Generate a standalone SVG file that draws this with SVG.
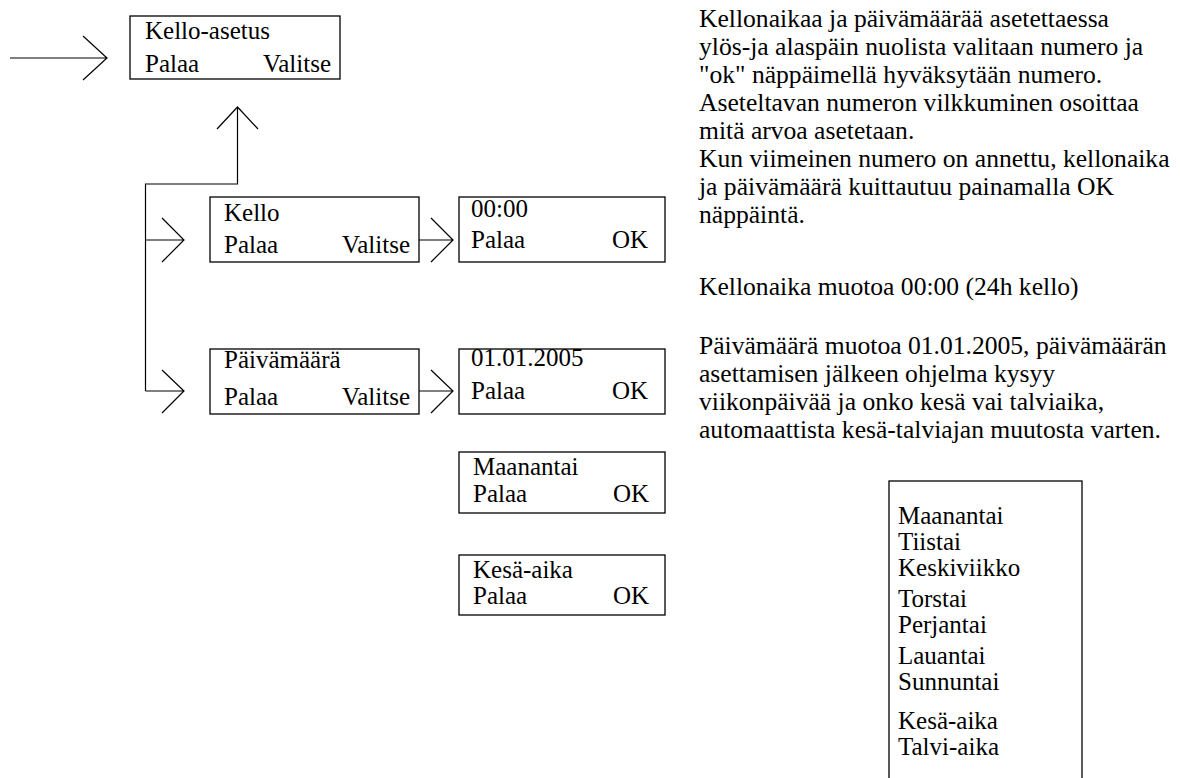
<svg xmlns="http://www.w3.org/2000/svg" width="1180" height="778" viewBox="0 0 1180 778">
  <style>
    .box { fill: #ffffff; stroke: #000000; stroke-width: 1.3; }
    .ln { fill: none; stroke: #000000; stroke-width: 1.2; }
    text { font-family: "Liberation Serif", "Times New Roman", serif; font-size: 25px; fill: #000000; }
    .end { text-anchor: end; }
    .note { font-size: 25.6px; }
  </style>
  <rect width="1180" height="778" fill="#ffffff"/>

  <!-- connectors -->
  <g id="connectors">
    <!-- entry arrow -->
    <path class="ln" d="M10 58 H107 M83 36 L107 58 L83 80"/>
    <!-- return path up to the main menu -->
    <path class="ln" d="M237.5 107 V184 H145.5 V391"/>
    <path class="ln" d="M217 129 L237.5 107 L258 129"/>
    <!-- branch to Kello -->
    <path class="ln" d="M145.5 240 H184 M162 218 L184 240 L162 262"/>
    <!-- branch to Päivämäärä -->
    <path class="ln" d="M145.5 391 H184 M162 370 L184 391 L162 413"/>
    <!-- Kello to 00:00 -->
    <path class="ln" d="M419 240 H453 M431 218 L453 240 L431 262"/>
    <!-- Päivämäärä to 01.01.2005 -->
    <path class="ln" d="M419 391 H453 M431 370 L453 391 L431 413"/>
  </g>

  <g id="kello-asetus">
    <rect class="box" x="130" y="16" width="210" height="63"/>
    <text x="145" y="39">Kello-asetus</text>
    <text x="145" y="72">Palaa</text>
    <text class="end" x="331" y="72">Valitse</text>
  </g>

  <g id="kello">
    <rect class="box" x="210" y="197" width="209" height="65"/>
    <text x="224" y="221">Kello</text>
    <text x="224" y="253">Palaa</text>
    <text class="end" x="410" y="253">Valitse</text>
  </g>

  <g id="aika">
    <rect class="box" x="459" y="197" width="206" height="65"/>
    <text x="471" y="217">00:00</text>
    <text x="471" y="248">Palaa</text>
    <text class="end" x="648" y="248">OK</text>
  </g>

  <g id="paivamaara">
    <rect class="box" x="210" y="349" width="209" height="65"/>
    <text x="224" y="368">Päivämäärä</text>
    <text x="224" y="405">Palaa</text>
    <text class="end" x="410" y="405">Valitse</text>
  </g>

  <g id="pvm">
    <rect class="box" x="459" y="349" width="206" height="65"/>
    <text x="471" y="366">01.01.2005</text>
    <text x="471" y="399">Palaa</text>
    <text class="end" x="648" y="399">OK</text>
  </g>

  <g id="viikonpaiva">
    <rect class="box" x="459" y="452" width="206" height="61"/>
    <text x="473" y="475">Maanantai</text>
    <text x="473" y="502">Palaa</text>
    <text class="end" x="649" y="502">OK</text>
  </g>

  <g id="kesaaika">
    <rect class="box" x="459" y="555" width="206" height="60"/>
    <text x="473" y="578">Kesä-aika</text>
    <text x="473" y="604">Palaa</text>
    <text class="end" x="649" y="604">OK</text>
  </g>

  <g id="ohje" class="note">
    <text class="note" x="699" y="27">Kellonaikaa ja päivämäärää asetettaessa</text>
    <text class="note" x="699" y="55">ylös-ja alaspäin nuolista valitaan numero ja</text>
    <text class="note" x="699" y="83">"ok" näppäimellä hyväksytään numero.</text>
    <text class="note" x="699" y="111">Aseteltavan numeron vilkkuminen osoittaa</text>
    <text class="note" x="699" y="139">mitä arvoa asetetaan.</text>
    <text class="note" x="699" y="167">Kun viimeinen numero on annettu, kellonaika</text>
    <text class="note" x="699" y="195">ja päivämäärä kuittautuu painamalla OK</text>
    <text class="note" x="699" y="223">näppäintä.</text>
    <text class="note" x="699" y="295">Kellonaika muotoa 00:00 (24h kello)</text>
    <text class="note" x="699" y="354">Päivämäärä muotoa 01.01.2005, päivämäärän</text>
    <text class="note" x="699" y="382">asettamisen jälkeen ohjelma kysyy</text>
    <text class="note" x="699" y="410">viikonpäivää ja onko kesä vai talviaika,</text>
    <text class="note" x="699" y="438">automaattista kesä-talviajan muutosta varten.</text>
  </g>

  <g id="valinnat">
    <rect class="box" x="889" y="481" width="193" height="320"/>
    <text x="898" y="524">Maanantai</text>
    <text x="898" y="550">Tiistai</text>
    <text x="898" y="576">Keskiviikko</text>
    <text x="898" y="607">Torstai</text>
    <text x="898" y="633">Perjantai</text>
    <text x="898" y="664">Lauantai</text>
    <text x="898" y="690">Sunnuntai</text>
    <text x="898" y="729">Kesä-aika</text>
    <text x="898" y="755">Talvi-aika</text>
  </g>
</svg>
